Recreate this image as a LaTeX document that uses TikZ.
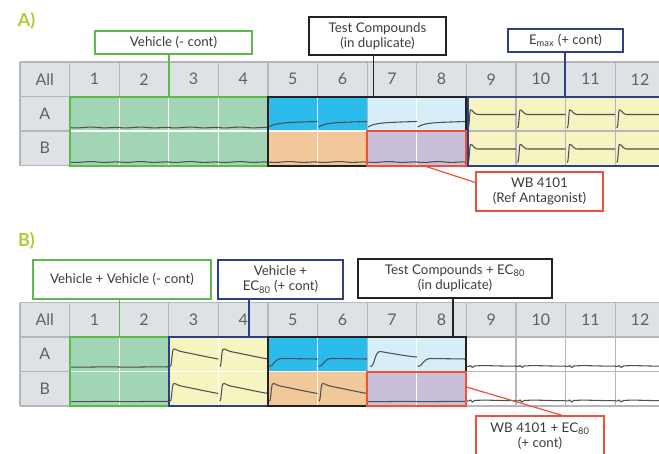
\documentclass[tikz,border=0pt]{standalone}
\usepackage{fontspec}
\setmainfont{Lato}
\definecolor{cgreen}{HTML}{A1D5B5}
\definecolor{cblue}{HTML}{2BBBED}
\definecolor{clblue}{HTML}{D5EEF8}
\definecolor{corange}{HTML}{F1C89A}
\definecolor{cpurple}{HTML}{C9BFD9}
\definecolor{cyellow}{HTML}{F6F4C1}
\definecolor{chdr}{HTML}{DEE2E6}
\definecolor{cgrid}{HTML}{B3B6BA}
\definecolor{ogreen}{HTML}{5DB94B}
\definecolor{onavy}{HTML}{2E3F85}
\definecolor{ored}{HTML}{E9533A}
\definecolor{oblack}{HTML}{222222}
\definecolor{ctext}{HTML}{3C3C3C}
\definecolor{chtext}{HTML}{606060}
\definecolor{ctrace}{HTML}{505050}
\definecolor{cpanel}{HTML}{B4C832}
\newcommand\cellsfill[5]{\fill[#5] ({20+49.6*#1},{#4+34.5*#3}) rectangle ({20+49.6*(#2+1)},{#4+34.5*(#3+1)});}
\tikzset{
  trace/.style={draw=ctrace, line width=0.8pt},
  gridl/.style={draw=cgrid, line width=0.8pt},
  wline/.style={draw=white, line width=0.9pt},
  grp/.style={line width=1.5pt},
  lbl/.style={draw, fill=white, line width=1.1pt, inner sep=0pt, align=center, text=ctext, font=\fontsize{10}{11.5}\selectfont},
  boxsize/.style 2 args={minimum width=#1*0.75pt, minimum height=#2*0.75pt},
  conn/.style={line width=0.9pt},
  hdrtext/.style={text=chtext, font=\fontsize{12}{14}\selectfont},
  paneltxt/.style={text=cpanel, font=\bfseries\fontsize{13.5}{15}\selectfont},
  pics/flatA/.style={code={\draw[trace] (0,-3.5) .. controls (10,-2) and (18,-5) .. (28,-3.5) .. controls (38,-2.5) and (44,-4) .. (49.6,-3.5);}},
  pics/flatB/.style={code={\draw[trace] (0,-4.5) .. controls (15,-4) and (30,-5) .. (49.6,-4.5);}},
  pics/rise/.style={code={\draw[trace] (1,-4) .. controls (7,-8) and (15,-8.5) .. (49.6,-9.5);}},
  pics/spikeflat/.style={code={\draw[trace] (1.5,-3) .. controls (3,-3) and (3,-18) .. (4,-21) .. controls (5,-22) and (6,-20) .. (8,-18) .. controls (10,-16.5) .. (14,-16.5) -- (49.6,-16.5);}},
  pics/spikedecay/.style={code={\draw[trace] (1.5,-5) .. controls (3,-5) and (3,-20) .. (4.5,-22) .. controls (6,-23.5) and (8,-21) .. (12,-20) .. controls (25,-17.5) and (38,-14.5) .. (49.6,-12.5);}},
  pics/sig/.style={code={\draw[trace] (1,-5) .. controls (6,-5) and (6,-13) .. (14,-13) -- (49.6,-12.5);}},
  pics/bigsig/.style={code={\draw[trace] (3,-5) .. controls (8,-5) and (7,-20) .. (13,-20) .. controls (25,-18) and (38,-15.5) .. (49.6,-14.5);}},
  pics/zig/.style={code={\draw[trace] (0,-5) .. controls (3,-5) .. (4,-6) -- (6,-4) -- (8,-5.5) .. controls (20,-6.5) and (35,-5) .. (49.6,-5.5);}},
}
\begin{document}
\begin{tikzpicture}[x=0.75pt,y=-0.75pt]
\useasboundingbox (0,0) rectangle (659,453);
\begin{scope}
\clip (0,0) rectangle (659,453);
% header and row-label fills
\foreach \T in {62,302.5}{
  \fill[chdr] (20,\T) rectangle (680,\T+34.5);
  \fill[chdr] (20,\T+34.5) rectangle (69.6,\T+103.5);
}
% panel A fills
\cellsfill{1}{4}{1}{62}{cgreen}\cellsfill{1}{4}{2}{62}{cgreen}
\cellsfill{5}{6}{1}{62}{cblue}\cellsfill{5}{6}{2}{62}{corange}
\cellsfill{7}{8}{1}{62}{clblue}\cellsfill{7}{8}{2}{62}{cpurple}
\cellsfill{9}{13}{1}{62}{cyellow}\cellsfill{9}{13}{2}{62}{cyellow}
% panel B fills
\cellsfill{1}{2}{1}{302.5}{cgreen}\cellsfill{1}{2}{2}{302.5}{cgreen}
\cellsfill{3}{4}{1}{302.5}{cyellow}\cellsfill{3}{4}{2}{302.5}{cyellow}
\cellsfill{5}{6}{1}{302.5}{cblue}\cellsfill{5}{6}{2}{302.5}{corange}
\cellsfill{7}{8}{1}{302.5}{clblue}\cellsfill{7}{8}{2}{302.5}{cpurple}
% grid lines
\foreach \T in {62,302.5}{
  \foreach \k in {0,...,13} \draw[gridl] ({20+49.6*\k},\T) -- ({20+49.6*\k},\T+103.5);
  \foreach \r in {0,...,3} \draw[gridl] (20,\T+34.5*\r) -- (680,\T+34.5*\r);
}
% white inner lines
\foreach \k in {2,3,4,6,8} \draw[wline] ({20+49.6*\k},96.5) -- ({20+49.6*\k},165.5);
\draw[wline] (69.6,131) -- (466.4,131);
\foreach \k in {2,4,6,8} \draw[wline] ({20+49.6*\k},337) -- ({20+49.6*\k},406);
\draw[wline] (69.6,371.5) -- (466.4,371.5);
% header texts
\foreach \T/\P in {62/A,302.5/B}{
  \node[hdrtext] (\P-all) at (44.8,\T+17.25) {All};
  \node[hdrtext] (\P-ra) at (44.8,\T+51.75) {A};
  \node[hdrtext] (\P-rb) at (44.8,\T+86.25) {B};
  \foreach \c in {1,...,12} \node[hdrtext] (\P-h\c) at ({44.8+49.6*\c},\T+17.25) {\c};
}
% traces panel A
\foreach \c in {1,...,4}{ \pic at ({20+49.6*\c},131) {flatA}; \pic at ({20+49.6*\c},165.5) {flatA}; }
\foreach \c in {5,...,8}{ \pic at ({20+49.6*\c},131) {rise}; \pic at ({20+49.6*\c},165.5) {flatA}; }
\foreach \c in {9,...,12}{ \pic at ({20+49.6*\c},131) {spikeflat}; \pic at ({20+49.6*\c},165.5) {spikeflat}; }
% traces panel B
\foreach \c in {1,2}{ \pic at ({20+49.6*\c},371.5) {flatB}; \pic at ({20+49.6*\c},406) {flatB}; }
\foreach \c in {3,4}{ \pic at ({20+49.6*\c},371.5) {spikedecay}; \pic at ({20+49.6*\c},406) {spikedecay}; }
\foreach \c in {5,6}{ \pic at ({20+49.6*\c},371.5) {sig}; \pic at ({20+49.6*\c},406) {spikedecay}; }
\pic at ({20+49.6*7},371.5) {bigsig};
\pic at ({20+49.6*8},371.5) {sig};
\foreach \c in {7,8}{ \pic at ({20+49.6*\c},406) {flatB}; }
\foreach \c in {9,...,12}{ \pic at ({20+49.6*\c},371.5) {zig}; \pic at ({20+49.6*\c},406) {zig}; }
% group outlines panel A
\draw[grp, ogreen] (69.6,96.5) rectangle (268,165.5);
\draw[grp, oblack] (268,96.5) -- (466.4,96.5) -- (466.4,131) -- (367.2,131) -- (367.2,165.5) -- (268,165.5) -- cycle;
\draw[grp, onavy] (467.6,96.5) rectangle (680,165.5);
\draw[grp, ored] (367.2,131) rectangle (466.4,165.5);
% group outlines panel B
\draw[grp, ogreen] (69.6,337) rectangle (168.8,406);
\draw[grp, onavy] (168.8,337) rectangle (268,406);
\draw[grp, oblack] (268,337) -- (466.4,337) -- (466.4,371.5) -- (367.2,371.5) -- (367.2,406) -- (268,406) -- cycle;
\draw[grp, ored] (367.2,371.5) rectangle (466.4,406);
% panel letters
\node[paneltxt] (pA) at (26.5,21) {A)};
\node[paneltxt] (pB) at (26.5,241) {B)};
% labels panel A
\node[lbl, draw=ogreen, boxsize={157}{23}] (vehA) at (173.5,42.5) {Vehicle (- cont)};
\node[lbl, draw=oblack, boxsize={137}{38}] (testA) at (377.5,36) {Test Compounds\\(in duplicate)};
\node[lbl, draw=onavy, boxsize={115}{23}] (emaxA) at (565.5,40.5) {E\textsubscript{max} (+ cont)};
\node[lbl, draw=ored, boxsize={127}{39}] (wbA) at (539.5,191.5) {WB 4101\\(Ref Antagonist)};
% labels panel B
\node[lbl, draw=ogreen, boxsize={178}{39}] (vehB) at (122,279.5) {Vehicle + Vehicle (- cont)};
\node[lbl, draw=onavy, boxsize={125}{39}] (ecB) at (280.5,279.5) {Vehicle +\\EC\textsubscript{80} (+ cont)};
\node[lbl, draw=oblack, boxsize={194}{39}] (testB) at (455,278.5) {Test Compounds + EC\textsubscript{80}\\(in duplicate)};
\node[lbl, draw=ored, boxsize={128}{40}] (wbB) at (540,436) {WB 4101 + EC\textsubscript{80}\\(+ cont)};
% connector end points
\coordinate (cvehA) at (169,96.5);
\coordinate (ctestA) at (373.3,96.5);
\coordinate (cemaxA) at (565,96.5);
\coordinate (cwbA) at (423,165.5);
\coordinate (cvehB) at (119.7,337);
\coordinate (cecB) at (249,337);
\coordinate (ctestB) at (453,337);
\coordinate (cwbB) at (466.4,387);
\coordinate (cwbBtop) at (562,416);
% connectors
\draw[conn, ogreen] (cvehA |- vehA.south) -- (cvehA);
\draw[conn, oblack] (ctestA |- testA.south) -- (ctestA);
\draw[conn, onavy] (cemaxA |- emaxA.south) -- (cemaxA);
\draw[conn, ored] (cwbA) -- (wbA.172);
\draw[conn, ogreen] (cvehB |- vehB.south) -- (cvehB);
\draw[conn, onavy] (cecB |- ecB.south) -- (cecB);
\draw[conn, oblack] (ctestB |- testB.south) -- (ctestB);
\draw[conn, ored] (cwbB) -- (cwbBtop |- wbB.north);
\end{scope}
\end{tikzpicture}
\end{document}
